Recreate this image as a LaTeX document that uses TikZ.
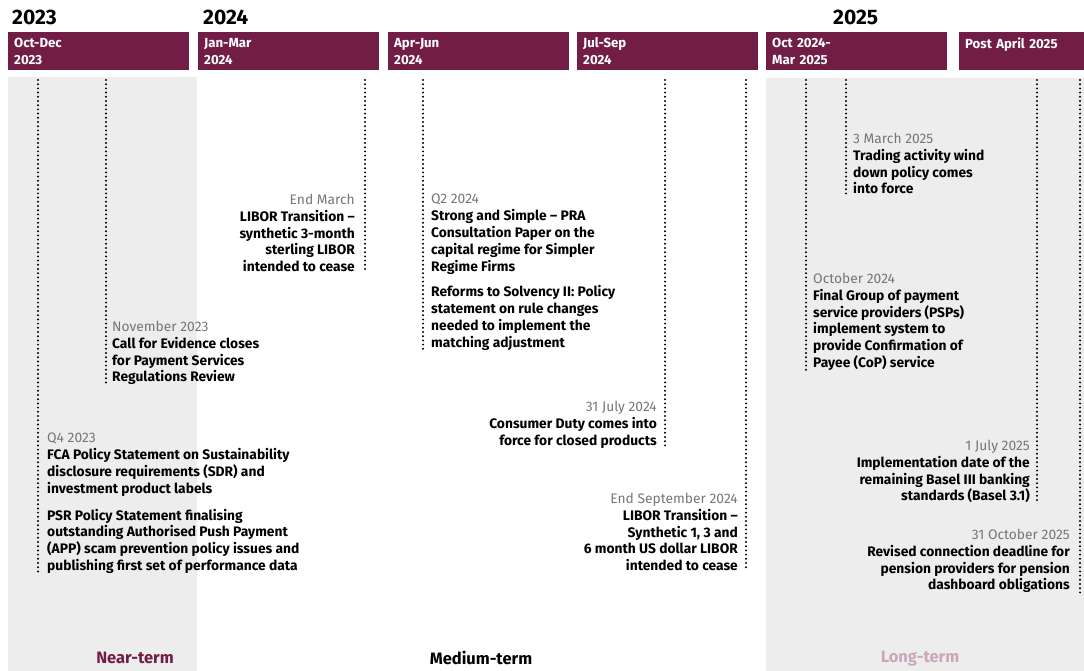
\documentclass[tikz,border=0pt]{standalone}
\usepackage{fontspec}
\setmainfont{Fira Sans}
\definecolor{granate}{RGB}{113,29,69}
\definecolor{fondo}{RGB}{237,237,237}
\definecolor{gris}{RGB}{118,118,118}
\definecolor{rosa}{RGB}{204,166,186}
\newcommand{\fecha}[1]{{\mdseries\color{gris}#1}}

\begin{document}
\begin{tikzpicture}[line cap=round,line join=round,x=1pt,y=-1pt,
	anio/.style={anchor=west,inner sep=0pt,font=\fontsize{21}{22}\selectfont\bfseries},
	cabecera/.style={anchor=north west,fill=granate,text=white,inner xsep=6pt,inner ysep=0pt,
		minimum height=38pt,text width=169pt,align=left,font=\fontsize{13.2}{17}\selectfont\bfseries},
	puntos/.style={line width=2.2pt,dash pattern=on 0pt off 4.2pt},
	evento/.style={inner sep=0pt,font=\fontsize{13.8}{16.8}\selectfont\bfseries},
	izq/.style={evento,anchor=north west,align=left},
	der/.style={evento,anchor=north east,align=right},
	plazo/.style={inner sep=0pt,font=\fontsize{16.5}{17}\selectfont\bfseries}]
	\useasboundingbox (0,0) rectangle (1084,671);
	%%%% FONDOS
	\fill[fondo] (8,77) rectangle (197,671);
	\fill[fondo] (766,78) rectangle (1084,671);
	
	%%%% ANIOS
	\node[anio] (a23) at (12,17) {2023};
	\node[anio] (a24) at (203,17) {2024};
	\node[anio] (a25) at (833,17) {2025};
	
	%%%% CABECERAS
	\node[cabecera] (c1) at (8,32) {Oct-Dec\\2023};
	\node[cabecera] (c2) at (198,32) {Jan-Mar\\2024};
	\node[cabecera] (c3) at (388,32) {Apr-Jun\\2024};
	\node[cabecera] (c4) at (577,32) {Jul-Sep\\2024};
	\node[cabecera] (c5) at (766,32) {Oct 2024-\\Mar 2025};
	\node[cabecera,text width=113pt] (c6) at (959,32) {Post April 2025\\\mbox{}};
	
	%%%% LINEAS
	\coordinate (p1) at (38,80);
	\coordinate (p2) at (106,80);
	\coordinate (p3) at (365,80);
	\coordinate (p4) at (423,80);
	\coordinate (p5) at (665,80);
	\coordinate (p6) at (746,80);
	\coordinate (p7) at (806,80);
	\coordinate (p8) at (846,80);
	\coordinate (p9) at (1037,80);
	\coordinate (p10) at (1080,80);
	
	%%%% CORTO PLAZO
	\node[izq] (nov) at (112,321) {\fecha{November 2023}\\
		Call for Evidence closes\\
		for Payment Services\\
		Regulations Review};
	\draw[puntos] (p2) -- (p2 |- nov.south);
	
	\node[izq] (q4) at (47,433) {\fecha{Q4 2023}\\
		FCA Policy Statement on Sustainability\\
		disclosure requirements (SDR) and\\
		investment product labels\\[10pt]
		PSR Policy Statement finalising\\
		outstanding Authorised Push Payment\\
		(APP) scam prevention policy issues and\\
		publishing first set of performance data};
	\draw[puntos] (p1) -- (p1 |- q4.south);
	
	%%%% MEDIO PLAZO
	\node[der] (mar) at (355,194) {\fecha{End March}\\
		LIBOR Transition --\\
		synthetic 3-month\\
		sterling LIBOR\\
		intended to cease};
	\draw[puntos] (p3) -- (p3 |- mar.south);
	
	\node[izq] (q2) at (431,194) {\fecha{Q2 2024}\\
		Strong and Simple -- PRA\\
		Consultation Paper on the\\
		capital regime for Simpler\\
		Regime Firms\\[9pt]
		Reforms to Solvency II: Policy\\
		statement on rule changes\\
		needed to implement the\\
		matching adjustment};
	\draw[puntos] (p4) -- (p4 |- q2.south);
	
	\node[der] (jul) at (657,401) {\fecha{31 July 2024}\\
		Consumer Duty comes into\\
		force for closed products};
	\draw[puntos] (p5) -- (p5 |- jul.south);
	
	\node[der] (sep) at (738,493) {\fecha{End September 2024}\\
		LIBOR Transition --\\
		Synthetic 1, 3 and\\
		6 month US dollar LIBOR\\
		intended to cease};
	\draw[puntos] (p6) -- (p6 |- sep.south);
	
	%%%% LARGO PLAZO
	\node[izq] (oct) at (813,273) {\fecha{October 2024}\\
		Final Group of payment\\
		service providers (PSPs)\\
		implement system to\\
		provide Confirmation of\\
		Payee (CoP) service};
	\draw[puntos] (p7) -- (p7 |- oct.south);
	
	\node[izq] (mzo) at (853,133) {\fecha{3 March 2025}\\
		Trading activity wind\\
		down policy comes\\
		into force};
	\draw[puntos] (p8) -- (p8 |- mzo.south);
	
	\node[der] (jul25) at (1030,440) {\fecha{1 July 2025}\\
		Implementation date of the\\
		remaining Basel III banking\\
		standards (Basel 3.1)};
	\draw[puntos] (p9) -- (p9 |- jul25.south);
	
	\node[der] (oct25) at (1070,529) {\fecha{31 October 2025}\\
		Revised connection deadline for\\
		pension providers for pension\\
		dashboard obligations};
	\draw[puntos] (p10) -- (p10 |- oct25.south);
	
	%%%% PLAZOS
	\node[plazo,text=granate] (cerca) at (135,658) {Near-term};
	\node[plazo] (medio) at (481,658) {Medium-term};
	\node[plazo,text=rosa] (lejos) at (920,659) {Long-term};
\end{tikzpicture}
\end{document}
